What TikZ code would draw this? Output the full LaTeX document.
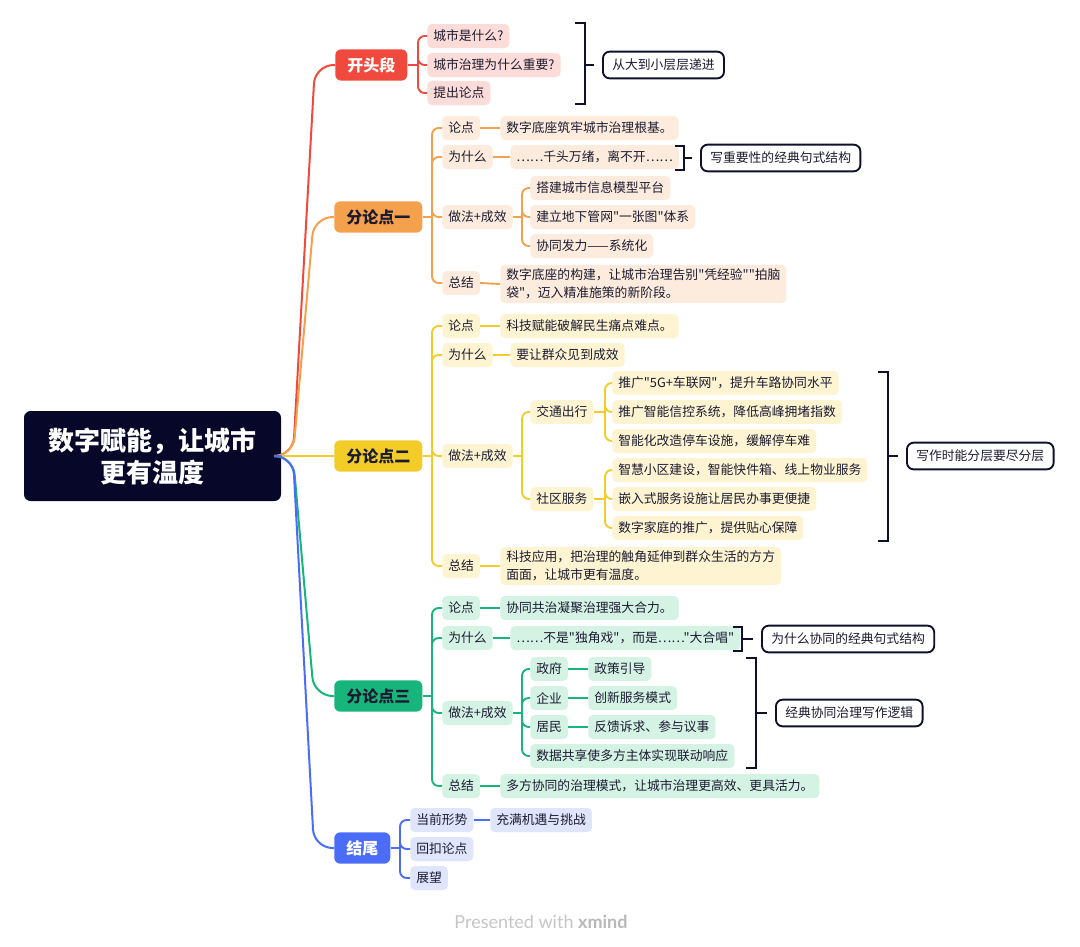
\documentclass[tikz,border=0pt]{standalone}
\usepackage{fontspec}
\newfontfamily\cjk{Noto Sans CJK SC}
\setmainfont{Noto Sans CJK SC}
\newfontfamily\footfont{Lato}
\definecolor{ink}{HTML}{1B1B30}
\definecolor{navy}{HTML}{10102E}
\definecolor{rootc}{HTML}{07072A}
\definecolor{r0}{HTML}{F04A3E}
\definecolor{r1}{HTML}{F5A04C}
\definecolor{r2}{HTML}{F4CC28}
\definecolor{r3}{HTML}{17B47C}
\definecolor{r4}{HTML}{4A6CF6}
\definecolor{f0}{HTML}{FCDCD8}
\definecolor{f1}{HTML}{FDECDD}
\definecolor{f2}{HTML}{FEF4D2}
\definecolor{f3}{HTML}{D4F3E5}
\definecolor{f4}{HTML}{DFE5FD}
\definecolor{footg}{HTML}{C6C6C6}
\definecolor{footx}{HTML}{B8B8B8}
\begin{document}
\begin{tikzpicture}[x=0.75pt,y=-0.75pt,
  kid/.style={anchor=west, rounded corners=3.5pt, inner xsep=4.5pt, inner ysep=0pt,
    minimum height=18pt, text=ink, font=\cjk\fontsize{9.6}{13.5}\selectfont},
  kid0/.style={kid, fill=f0}, kid1/.style={kid, fill=f1}, kid2/.style={kid, fill=f2},
  kid3/.style={kid, fill=f3}, kid4/.style={kid, fill=f4},
  twoline/.style={align=left, inner ysep=3pt},
  mainbr/.style={anchor=west, rounded corners=4.5pt, minimum height=23.5pt, inner xsep=9pt,
    inner ysep=0pt, font=\cjk\bfseries\fontsize{12}{14}\selectfont},
  sumbox/.style={anchor=west, draw=navy, line width=1.4pt, rounded corners=5pt, fill=white,
    minimum height=20pt, inner xsep=7pt, inner ysep=0pt, text=ink,
    font=\cjk\fontsize{9.6}{13.5}\selectfont},
  lk/.style={line width=1.4pt, rounded corners=5pt},
  bigl/.style={line width=1.5pt, rounded corners=14pt},
  brk/.style={draw=navy, line width=1.6pt}]
\useasboundingbox (0,0) rectangle (1080,946);
\fill[white] (0,0) rectangle (1080,946);

% root
\node[fill=rootc, rounded corners=5pt, minimum width=192.75pt, minimum height=67.5pt,
  text=white, align=center, font=\cjk\bfseries\fontsize{19.5}{24}\selectfont] (root) at (152.5,456)
  {数字赋能，让城市\\更有温度};
\coordinate (jr) at (293,456);

% main branches
\node[mainbr, fill=r0, text=white] (b0) at (335,65) {开头段};
\node[mainbr, fill=r1, text=ink] (b1) at (334,217) {分论点一};
\node[mainbr, fill=r2, text=ink] (b2) at (334,456) {分论点二};
\node[mainbr, fill=r3, text=ink] (b3) at (334,696) {分论点三};
\node[mainbr, fill=r4, text=white] (b4) at (334,848) {结尾};

\draw[bigl, r0] (root.east) -- (jr) -- ([xshift=-15pt]b0.west) -- (b0.west);
\draw[bigl, r1] (root.east) -- (jr) -- ([xshift=-15pt]b1.west) -- (b1.west);
\draw[bigl, r2] (root.east) -- (b2.west);
\draw[bigl, r3] (root.east) -- (jr) -- ([xshift=-15pt]b3.west) -- (b3.west);
\draw[bigl, r4] (root.east) -- (jr) -- ([xshift=-15pt]b4.west) -- (b4.west);

% ---------- branch 0
\node[kid0] (a1) at (427,36) {城市是什么?};
\node[kid0] (a2) at (427,65) {城市治理为什么重要?};
\node[kid0] (a3) at (427,93) {提出论点};
\coordinate (j0) at (418,65);
\draw[lk, r0] (b0.east) -- (j0);
\foreach \n in {a1,a2,a3} \draw[lk, r0] (j0) |- (\n.west);
\node[sumbox] (s0) at (602,65) {从大到小层层递进};
\draw[brk] (575,23) -- (585,23) -- (585,104) -- (575,104);
\draw[brk] (585,65) -- ([xshift=-6pt]s0.west);

% ---------- branch 1
\coordinate (j1) at (432,217);
\node[kid1] (p1) at (442,128) {论点};
\node[kid1] (q1) at (500,128) {数字底座筑牢城市治理根基。};
\node[kid1] (w1) at (442,157) {为什么};
\node[kid1] (x1) at (510,157) {……千头万绪，离不开……};
\node[kid1] (d1) at (442,217) {做法+成效};
\node[kid1] (e1a) at (530,188) {搭建城市信息模型平台};
\node[kid1] (e1b) at (530,217) {建立地下管网"一张图"体系};
\node[kid1] (e1c) at (530,246) {协同发力——系统化};
\node[kid1] (z1) at (442,283) {总结};
\node[kid1, twoline] (y1) at (500,284) {数字底座的构建，让城市治理告别"凭经验""拍脑\\袋"，迈入精准施策的新阶段。};
\draw[lk, r1] (b1.east) -- (j1);
\foreach \n in {p1,w1,d1,z1} \draw[lk, r1] (j1) |- (\n.west);
\draw[lk, r1] (p1.east) -- (q1.west);
\draw[lk, r1] (w1.east) -- (x1.west);
\draw[lk, r1] (z1.east) -- (y1.west);
\coordinate (jd1) at (522,217);
\draw[lk, r1] (d1.east) -- (jd1);
\foreach \n in {e1a,e1b,e1c} \draw[lk, r1] (jd1) |- (\n.west);
\node[sumbox] (s1) at (700,158) {写重要性的经典句式结构};
\draw[brk] (675,146) -- (684,146) -- (684,170) -- (675,170);
\draw[brk] (684,158) -- ([xshift=-6pt]s1.west);

% ---------- branch 2
\coordinate (j2) at (432,456);
\node[kid2] (p2) at (442,326) {论点};
\node[kid2] (q2) at (500,326) {科技赋能破解民生痛点难点。};
\node[kid2] (w2) at (442,355) {为什么};
\node[kid2] (x2) at (510,355) {要让群众见到成效};
\node[kid2] (d2) at (442,456) {做法+成效};
\node[kid2] (t2) at (530,412) {交通出行};
\node[kid2] (u2) at (530,499) {社区服务};
\node[kid2] (t2a) at (612,383) {推广"5G+车联网"，提升车路协同水平};
\node[kid2] (t2b) at (612,412) {推广智能信控系统，降低高峰拥堵指数};
\node[kid2] (t2c) at (612,441) {智能化改造停车设施，缓解停车难};
\node[kid2] (u2a) at (612,470) {智慧小区建设，智能快件箱、线上物业服务};
\node[kid2] (u2b) at (612,499) {嵌入式服务设施让居民办事更便捷};
\node[kid2] (u2c) at (612,528) {数字家庭的推广，提供贴心保障};
\node[kid2] (z2) at (442,566) {总结};
\node[kid2, twoline] (y2) at (500,566) {科技应用，把治理的触角延伸到群众生活的方方\\面面，让城市更有温度。};
\draw[lk, r2] (b2.east) -- (j2);
\foreach \n in {p2,w2,d2,z2} \draw[lk, r2] (j2) |- (\n.west);
\draw[lk, r2] (p2.east) -- (q2.west);
\draw[lk, r2] (w2.east) -- (x2.west);
\draw[lk, r2] (z2.east) -- (y2.west);
\coordinate (jd2) at (522,456);
\draw[lk, r2] (d2.east) -- (jd2);
\foreach \n in {t2,u2} \draw[lk, r2] (jd2) |- (\n.west);
\coordinate (jt2) at (605,412);
\draw[lk, r2] (t2.east) -- (jt2);
\foreach \n in {t2a,t2b,t2c} \draw[lk, r2] (jt2) |- (\n.west);
\coordinate (ju2) at (605,499);
\draw[lk, r2] (u2.east) -- (ju2);
\foreach \n in {u2a,u2b,u2c} \draw[lk, r2] (ju2) |- (\n.west);
\node[sumbox] (s2) at (906,456) {写作时能分层要尽分层};
\draw[brk] (878,372) -- (888,372) -- (888,541) -- (878,541);
\draw[brk] (888,456) -- ([xshift=-6pt]s2.west);

% ---------- branch 3
\coordinate (j3) at (432,696);
\node[kid3] (p3) at (442,608) {论点};
\node[kid3] (q3) at (500,608) {协同共治凝聚治理强大合力。};
\node[kid3] (w3) at (442,638) {为什么};
\node[kid3] (x3) at (510,638) {……不是"独角戏"，而是……"大合唱"};
\node[kid3] (d3) at (442,713) {做法+成效};
\node[kid3] (g3a) at (530,669) {政府};
\node[kid3] (h3a) at (588,669) {政策引导};
\node[kid3] (g3b) at (530,698) {企业};
\node[kid3] (h3b) at (588,698) {创新服务模式};
\node[kid3] (g3c) at (530,727) {居民};
\node[kid3] (h3c) at (588,727) {反馈诉求、参与议事};
\node[kid3] (g3d) at (530,756) {数据共享使多方主体实现联动响应};
\node[kid3] (z3) at (442,786) {总结};
\node[kid3] (y3) at (500,786) {多方协同的治理模式，让城市治理更高效、更具活力。};
\draw[lk, r3] (b3.east) -- (j3);
\foreach \n in {p3,w3,d3,z3} \draw[lk, r3] (j3) |- (\n.west);
\draw[lk, r3] (p3.east) -- (q3.west);
\draw[lk, r3] (w3.east) -- (x3.west);
\draw[lk, r3] (z3.east) -- (y3.west);
\coordinate (jd3) at (522,713);
\draw[lk, r3] (d3.east) -- (jd3);
\foreach \n in {g3a,g3b,g3c,g3d} \draw[lk, r3] (jd3) |- (\n.west);
\draw[lk, r3] (g3a.east) -- (h3a.west);
\draw[lk, r3] (g3b.east) -- (h3b.west);
\draw[lk, r3] (g3c.east) -- (h3c.west);
\node[sumbox] (s3a) at (761,639) {为什么协同的经典句式结构};
\draw[brk] (733,627) -- (742,627) -- (742,651) -- (733,651);
\draw[brk] (742,639) -- ([xshift=-6pt]s3a.west);
\node[sumbox] (s3b) at (775,713) {经典协同治理写作逻辑};
\draw[brk] (746,658) -- (756,658) -- (756,768) -- (746,768);
\draw[brk] (756,713) -- ([xshift=-6pt]s3b.west);

% ---------- branch 4
\coordinate (j4) at (400,848);
\node[kid4] (k4a) at (410,820) {当前形势};
\node[kid4] (m4) at (490,820) {充满机遇与挑战};
\node[kid4] (k4b) at (410,849) {回扣论点};
\node[kid4] (k4c) at (410,878) {展望};
\draw[lk, r4] (b4.east) -- (j4);
\foreach \n in {k4a,k4b,k4c} \draw[lk, r4] (j4) |- (\n.west);
\draw[lk, r4] (k4a.east) -- (m4.west);

% footer
\node[text=footg, font=\footfont\fontsize{13.5}{15}\selectfont] (foot) at (541,922)
  {Presented with \textcolor{footx}{\bfseries xmind}};
\end{tikzpicture}
\end{document}
